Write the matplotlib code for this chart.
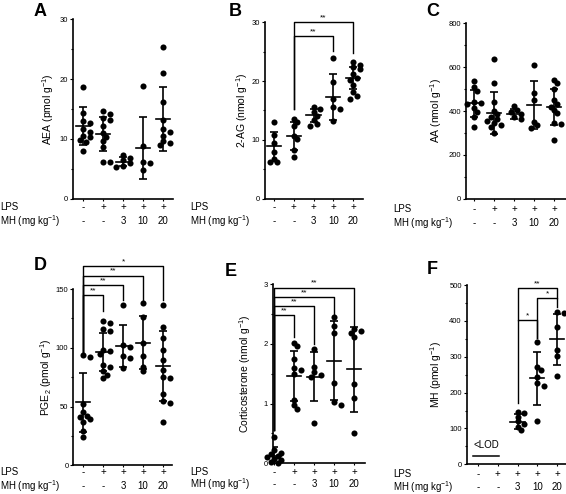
import matplotlib
matplotlib.use("Agg")
import matplotlib.pyplot as plt
from matplotlib.ticker import MultipleLocator
import numpy as np

plt.rcParams['font.family'] = ['Liberation Sans', 'DejaVu Sans']
plt.rcParams['mathtext.default'] = 'regular'

# ---------------- data ----------------
lps_row = ["-", "+", "+", "+", "+"]
mh_row = ["-", "-", "3", "10", "20"]

aea_groups = [
    [18.7, 14.3, 13.0, 12.7, 11.7, 11.2, 10.5, 10.3, 9.8, 9.4, 8.0],
    [14.7, 14.2, 13.5, 13.2, 12.2, 11.0, 10.3, 9.6, 8.7, 6.2, 6.2],
    [7.3, 6.8, 6.5, 6.0, 5.5, 5.3],
    [18.9, 8.8, 6.1, 5.9, 4.8],
    [25.4, 21.0, 16.1, 13.2, 11.6, 11.2, 10.5, 9.6, 9.3, 9.0],
]
aea_mean = [12.2, 10.8, 6.2, 8.5, 13.3]
aea_sd = [3.2, 2.9, 0.8, 5.2, 5.4]

ag_groups = [
    [13.0, 10.8, 9.5, 8.0, 6.8, 6.2, 6.2],
    [13.6, 13.0, 12.3, 10.7, 10.1, 8.3, 7.0],
    [15.6, 15.2, 14.8, 14.1, 13.4, 12.7, 12.4],
    [24.0, 19.8, 17.0, 15.6, 15.2, 13.2],
    [23.3, 22.8, 22.4, 22.0, 21.2, 20.5, 20.2, 19.4, 18.2, 17.5, 17.0],
]
ag_mean = [8.9, 10.6, 14.2, 17.3, 20.5]
ag_sd = [2.5, 2.4, 1.1, 3.9, 1.9]

aa_groups = [
    [538, 508, 491, 440, 437, 430, 415, 397, 371, 325],
    [637, 526, 443, 400, 385, 374, 362, 356, 347, 336, 329, 298],
    [423, 405, 397, 386, 374, 362],
    [610, 484, 450, 351, 336, 322],
    [541, 526, 500, 450, 430, 420, 404, 389, 345, 340, 268],
]
aa_mean = [435, 392, 385, 427, 417]
aa_sd = [62, 95, 22, 110, 83]

pge_groups = [
    [93.5, 92, 52, 45, 42, 41, 39, 37, 29, 24],
    [123, 121, 116, 114, 98, 97, 95, 85, 84, 80, 77, 74],
    [136, 102, 101, 93, 91, 82.5],
    [138, 126, 104, 93, 84, 80],
    [136, 118, 108, 98, 90, 81, 75, 74, 61, 55, 53, 37],
]
pge_mean = [53.7, 96.4, 101.5, 104.3, 84.5]
pge_sd = [25, 16, 18, 22.5, 29.5]

cort_groups = [
    [0.44, 0.22, 0.18, 0.15, 0.12, 0.10, 0.08, 0.05, 0.03, 0.01],
    [2.02, 1.96, 1.75, 1.59, 1.56, 1.49, 1.06, 0.98, 0.91],
    [1.91, 1.61, 1.52, 1.48, 1.45, 0.67],
    [2.44, 2.29, 2.18, 1.35, 1.03, 0.98],
    [2.24, 2.22, 2.18, 2.12, 1.32, 1.09, 0.51],
]
cort_mean = [0.13, 1.46, 1.45, 1.72, 1.57]
cort_sd = [0.14, 0.42, 0.41, 0.66, 0.71]

mh_groups = [
    [],
    [],
    [147, 143, 133, 120, 113, 105, 95],
    [342, 272, 263, 244, 226, 218, 121],
    [426, 421, 384, 319, 302, 246],
]
mh_mean = [None, None, 119, 240, 348.5]
mh_sd = [None, None, 20, 74, 72]

# significance comparisons: (group i, group j, bar level, left leg end, right leg end, label)
ag_sig = [(1, 4, 30.0, 15.2, 24.8, "**"), (1, 3, 27.7, 15.2, 25.1, "**")]
pge_sig = [(0, 1, 144.9, 96.8, 131.6, "**"), (0, 2, 153.4, 96.8, 141, "**"),
           (0, 3, 161.3, 96.8, 141, "**"), (0, 4, 169.2, 96.8, 141, "*")]
cort_sig = [(0, 1, 2.48, 0.55, 2.12, "**"), (0, 2, 2.63, 0.55, 2.0, "**"),
            (0, 3, 2.78, 0.55, 2.5, "**"), (0, 4, 2.94, 0.55, 2.3, "**")]
mh_sig = [(2, 3, 402, 170, 351, "*"), (3, 4, 463, 351, 440, "*"),
          (2, 4, 491, 402, 463, "**")]

# ---------------- layout ----------------
W, H = 566, 494
fig = plt.figure(figsize=(W / 100, H / 100), dpi=100)


def add_ax(left, right, top, bottom):
    return fig.add_axes([left / W, 1 - bottom / H, (right - left) / W, (bottom - top) / H])


def swarm(ax, xc, ys, d=6.2):
    """Deterministic compact scatter spread, computed in display pixels."""
    ys = np.asarray(ys, float)
    if len(ys) == 0:
        return ys
    pts = ax.transData.transform(np.column_stack([np.full(len(ys), xc), ys]))
    py = pts[:, 1]
    sx = ax.transData.transform([[1, 0]])[0, 0] - ax.transData.transform([[0, 0]])[0, 0]
    order = np.argsort(-py)
    placed = []
    offs = np.zeros(len(ys))
    step = d * 0.55
    for i in order:
        best, bestd = 0.0, -1.0
        for k in [0, 1, -1, 2, -2]:
            dx = k * step
            if placed:
                md = min(np.hypot(dx - qx, py[i] - qy) for qx, qy in placed)
            else:
                md = 1e9
            if md >= 0.75 * d:
                best = dx
                break
            if md > bestd:
                best, bestd = dx, md
        placed.append((best, py[i]))
        offs[i] = best / sx
    return xc + offs


def panel(spec, groups, means, sds, ylim, major, minor, ylabel, letter, sig=None):
    ax = add_ax(spec['l'], spec['r'], spec['t'], spec['b'])
    ax.set_xlim(*spec['xlim'])
    ax.set_ylim(*ylim)
    for s in ['top', 'right']:
        ax.spines[s].set_visible(False)
    for s in ['left', 'bottom']:
        ax.spines[s].set_linewidth(1.2)
    ax.yaxis.set_major_locator(MultipleLocator(major))
    ax.yaxis.set_minor_locator(MultipleLocator(minor))
    ax.tick_params(axis='y', which='major', labelsize=5.5, length=2.5, width=0.8, pad=1)
    ax.tick_params(axis='y', which='minor', length=1.8, width=0.8)
    ax.set_xticks(range(5))
    ax.set_xticklabels([])
    ax.tick_params(axis='x', length=1.5, width=0.8)

    for i, ys in enumerate(groups):
        if len(ys):
            xs = swarm(ax, i, ys)
            ax.plot(xs, ys, 'o', color='black', ms=4.4, mew=0, clip_on=False, zorder=3)
        if means[i] is not None:
            ax.errorbar([i], [means[i]], yerr=[sds[i]], fmt='none', ecolor='black',
                        elinewidth=1.2, capsize=3.2, capthick=1.2, zorder=4)
            ax.plot([i - 0.36, i + 0.36], [means[i], means[i]], color='black', lw=1.2, zorder=4)

    if sig:
        yr = ylim[1] - ylim[0]
        for (i, j, lev, lb, rb, lab) in sig:
            ax.plot([i, i, j, j], [lb, lev, lev, rb], color='black', lw=1.0,
                    clip_on=False, zorder=2)
            ax.text((i + j) / 2, lev + yr * 0.006, lab, ha='center', va='bottom',
                    fontsize=6, clip_on=False)

    # condition rows
    tr = ax.get_xaxis_transform()
    hh = spec['b'] - spec['t']
    for i in range(5):
        ax.text(i, (spec['b'] - spec['lps_y']) / hh, lps_row[i], transform=tr,
                ha='center', va='center', fontsize=7)
        ax.text(i, (spec['b'] - spec['mh_y']) / hh, mh_row[i], transform=tr,
                ha='center', va='center', fontsize=7)
    fig.text(spec['row_x'] / W, 1 - spec['lps_y'] / H, "LPS", ha='left', va='center', fontsize=7)
    fig.text(spec['row_x'] / W, 1 - spec['mh_y'] / H, "MH (mg kg$^{-1}$)", ha='left',
             va='center', fontsize=7)

    fig.text(spec['ylab_x'] / W, 1 - (spec['t'] + spec['b']) / 2 / H, ylabel, rotation=90,
             ha='center', va='center', fontsize=7.5)
    fig.text(spec['let'][0] / W, 1 - spec['let'][1] / H, letter, ha='center', va='center',
             fontsize=13, fontweight='bold')
    return ax


specA = dict(l=73, r=173, t=19.3, b=198.7, xlim=(-0.5, 4.5), lps_y=207.3, mh_y=221,
             row_x=0, ylab_x=48, let=(40, 11))
specB = dict(l=265, r=363, t=22.5, b=198.5, xlim=(-0.45, 4.5), lps_y=207.3, mh_y=221,
             row_x=190, ylab_x=242, let=(235, 11))
specC = dict(l=466, r=566, t=23.3, b=198.7, xlim=(-0.4, 4.6), lps_y=209.3, mh_y=222.7,
             row_x=393, ylab_x=436, let=(433, 12))
specD = dict(l=73.3, r=172, t=289, b=465.3, xlim=(-0.5, 4.45), lps_y=472.3, mh_y=485.7,
             row_x=0, ylab_x=46, let=(40, 266))
specE = dict(l=272.7, r=365, t=284, b=463.3, xlim=(-0.07, 4.55), lps_y=471.7, mh_y=484.3,
             row_x=190, ylab_x=245, let=(231, 271))
specF = dict(l=466.7, r=566, t=285, b=464.3, xlim=(-0.57, 4.45), lps_y=474.3, mh_y=486.7,
             row_x=393, ylab_x=436, let=(432, 269))

panel(specA, aea_groups, aea_mean, aea_sd, (0, 30), 10, 5, "AEA (pmol g$^{-1}$)", "A")
panel(specB, ag_groups, ag_mean, ag_sd, (0, 30), 10, 5, "2-AG (nmol g$^{-1}$)", "B", ag_sig)
panel(specC, aa_groups, aa_mean, aa_sd, (0, 800), 200, 100, "AA (nmol g$^{-1}$)", "C")
panel(specD, pge_groups, pge_mean, pge_sd, (0, 150), 50, 25, "PGE$_2$ (pmol g$^{-1}$)", "D", pge_sig)
panel(specE, cort_groups, cort_mean, cort_sd, (0, 3), 1, 0.5,
      "Corticosterone (nmol g$^{-1}$)", "E", cort_sig)
axF = panel(specF, mh_groups, mh_mean, mh_sd, (0, 500), 100, 50, "MH (pmol g$^{-1}$)", "F", mh_sig)
axF.plot([-0.27, 1.05], [23, 23], color='black', lw=1.1)
axF.text(0.4, 54, "<LOD", ha='center', va='center', fontsize=7)

fig.savefig("out.png", dpi=100, facecolor='white')
